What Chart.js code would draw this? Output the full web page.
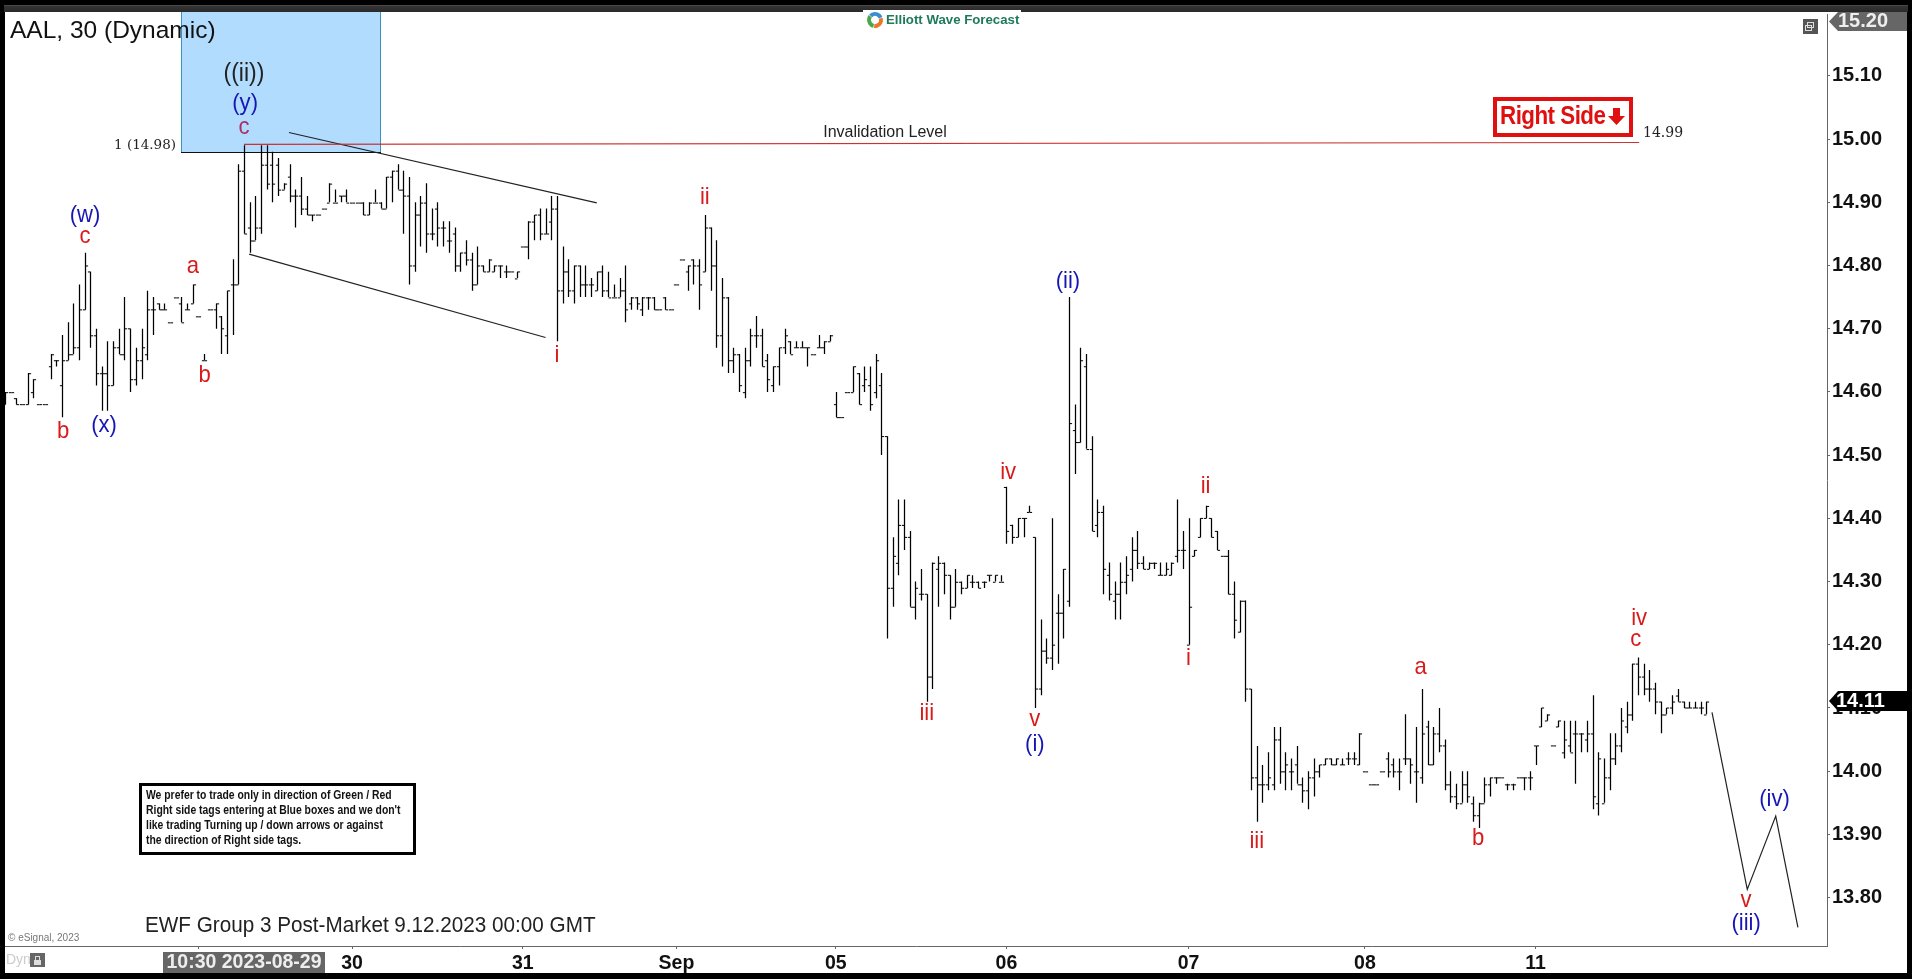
<!DOCTYPE html>
<html><head><meta charset="utf-8">
<style>html,body{margin:0;padding:0;background:#000;overflow:hidden}canvas{display:block}</style>
<script src="https://cdn.jsdelivr.net/npm/chart.js@4"></script>
</head><body>
<canvas id="c" width="1912" height="979"></canvas>
<script>
// 30-minute OHLC bars, prices in US cents, one entry per bar slot
const opens=[
1458,1460,1459,1458,1458,1460,1458,1458,1464,1465,
1461,1465,1466,1467,1473,1479,1469,1463,1463,1461,
1467,1466,1470,1462,1465,1466,1473,1474,1473,1471,
1475,1474,1473,1474,1472,1465,1473,1473,1472,1469,
1477,1477,1495,1486,1484,1486,1496,1496,1496,1492,
1494,1491,1491,1489,1488,1488,1489,1490,1490,1491,
1491,1490,1490,1490,1488,1490,1490,1489,1494,1495,
1492,1491,1480,1488,1490,1485,1489,1486,1484,1485,
1480,1482,1481,1477,1480,1479,1479,1480,1479,1479,
1478,1483,1483,1487,1488,1485,1487,1489,1476,1479,
1476,1480,1477,1477,1476,1479,1476,1475,1475,1476,
1474,1475,1473,1475,1475,1473,1475,1473,1477,1481,
1479,1481,1480,1479,1486,1480,1469,1475,1465,1466,
1460,1465,1469,1469,1465,1461,1464,1467,1468,1467,
1467,1467,1466,1467,1467,1468,1458,1456,1460,1460,
1463,1461,1461,1460,1461,1453,1429,1433,1439,1437,
1426,1428,1428,1415,1432,1433,1431,1426,1430,1429,
1430,1430,1430,1431,1430,1430,1445,1439,1437,1440,
1441,1437,1413,1419,1418,1425,1425,1427,1454,1452,
1464,1451,1439,1441,1431,1427,1428,1430,1432,1435,
1433,1432,1433,1431,1431,1431,1434,1435,1420,1434,
1437,1440,1440,1438,1434,1434,1428,1422,1427,1413,
1399,1398,1398,1398,1405,1400,1400,1401,1398,1397,
1399,1400,1401,1402,1401,1401,1402,1402,1401,1400,
1398,1398,1400,1402,1401,1400,1402,1402,1400,1399,
1407,1401,1406,1404,1398,1396,1395,1398,1395,1393,
1395,1398,1399,1399,1398,1398,1399,1399,1399,1404,
1407,1408,1404,1407,1403,1404,1406,1406,1405,1406,
1395,1395,1399,1402,1404,1407,1409,1417,1415,1413,
1413,1411,1409,1410,1412,1411,1410,1410,1410,1409];
const highs=[
1460,1460,1459,1458,1463,1462,1458,1458,1466,1465,
1469,1471,1474,1477,1482,1479,1470,1464,1468,1468,
1470,1475,1470,1467,1470,1476,1475,1474,1474,1471,
1475,1475,1474,1477,1472,1466,1473,1474,1472,1476,
1481,1496,1499,1490,1491,1499,1499,1498,1497,1493,
1496,1492,1494,1491,1488,1488,1489,1493,1492,1491,
1492,1490,1490,1490,1490,1492,1490,1494,1495,1496,
1495,1494,1490,1491,1493,1489,1490,1487,1487,1486,
1482,1484,1482,1483,1480,1481,1480,1480,1480,1479,
1479,1483,1487,1488,1489,1489,1491,1491,1483,1481,
1480,1480,1480,1478,1479,1480,1479,1477,1478,1480,
1475,1475,1475,1475,1475,1473,1475,1473,1477,1481,
1480,1481,1481,1488,1486,1484,1478,1475,1467,1466,
1467,1470,1472,1470,1466,1464,1467,1470,1468,1468,
1468,1467,1466,1469,1468,1469,1460,1456,1460,1464,
1463,1464,1464,1466,1463,1453,1437,1443,1443,1438,
1430,1432,1428,1433,1434,1433,1431,1432,1430,1431,
1431,1430,1430,1431,1431,1431,1445,1439,1440,1440,
1442,1437,1424,1421,1440,1428,1432,1475,1458,1467,
1466,1453,1443,1442,1433,1430,1433,1434,1437,1438,
1434,1433,1433,1433,1433,1433,1443,1438,1440,1435,
1440,1442,1440,1438,1434,1435,1430,1427,1427,1413,
1404,1401,1403,1407,1407,1403,1402,1404,1399,1400,
1402,1401,1402,1402,1402,1402,1403,1403,1406,1400,
1398,1398,1400,1403,1402,1402,1409,1402,1407,1413,
1408,1407,1410,1405,1400,1398,1400,1400,1396,1395,
1399,1399,1399,1399,1398,1398,1399,1399,1400,1404,
1410,1409,1404,1408,1408,1408,1408,1406,1408,1412,
1403,1402,1406,1406,1410,1411,1417,1418,1417,1416,
1414,1411,1410,1412,1413,1411,1411,1411,1411,1411];
const lows=[
1458,1460,1458,1458,1458,1459,1458,1458,1462,1464,
1456,1465,1466,1465,1473,1467,1461,1457,1457,1461,
1466,1465,1460,1461,1462,1465,1469,1473,1473,1471,
1475,1471,1473,1474,1472,1465,1473,1470,1466,1466,
1469,1477,1485,1482,1484,1485,1492,1490,1491,1492,
1490,1486,1488,1488,1487,1488,1489,1490,1490,1490,
1490,1490,1490,1488,1488,1490,1489,1489,1490,1492,
1485,1477,1479,1483,1482,1484,1483,1483,1482,1479,
1479,1480,1476,1477,1479,1479,1479,1478,1478,1479,
1478,1483,1481,1484,1484,1485,1484,1468,1474,1475,
1474,1475,1475,1475,1476,1475,1475,1475,1475,1471,
1473,1473,1472,1473,1473,1473,1473,1473,1477,1481,
1476,1477,1473,1479,1476,1467,1464,1463,1463,1460,
1459,1464,1467,1464,1460,1460,1461,1466,1466,1467,
1467,1464,1466,1467,1466,1468,1456,1456,1460,1460,
1458,1460,1457,1459,1450,1421,1426,1431,1435,1426,
1424,1427,1411,1413,1426,1428,1424,1426,1428,1429,
1429,1429,1429,1430,1430,1430,1436,1436,1437,1437,
1441,1410,1412,1417,1416,1417,1421,1426,1447,1452,
1451,1438,1437,1428,1427,1424,1424,1428,1430,1432,
1432,1432,1432,1431,1431,1431,1433,1432,1420,1434,
1437,1440,1437,1435,1434,1428,1421,1422,1411,1397,
1392,1395,1397,1397,1398,1397,1397,1398,1395,1394,
1396,1399,1401,1401,1401,1401,1401,1401,1401,1400,
1398,1398,1400,1399,1399,1397,1401,1398,1395,1398,
1401,1401,1403,1397,1395,1394,1395,1395,1392,1391,
1395,1396,1398,1399,1397,1397,1399,1397,1397,1401,
1407,1408,1404,1407,1402,1403,1398,1403,1403,1394,
1393,1395,1397,1401,1403,1406,1408,1412,1412,1411,
1409,1406,1409,1409,1411,1410,1410,1410,1409,1409];
const closes=[
1460,1460,1458,1458,1463,1462,1458,1458,1466,1465,
1465,1466,1467,1473,1480,1469,1463,1463,1461,1467,
1466,1470,1462,1465,1467,1473,1473,1473,1473,1471,
1475,1471,1473,1477,1472,1465,1473,1474,1470,1476,
1477,1495,1485,1484,1486,1496,1493,1493,1492,1493,
1491,1491,1489,1488,1488,1488,1489,1493,1490,1491,
1490,1490,1490,1488,1490,1490,1489,1494,1495,1492,
1491,1480,1488,1490,1485,1485,1486,1486,1484,1480,
1482,1481,1477,1480,1479,1481,1480,1480,1479,1479,
1479,1483,1487,1488,1485,1485,1489,1476,1479,1476,
1480,1477,1477,1477,1479,1476,1475,1475,1476,1473,
1475,1474,1475,1475,1473,1473,1473,1473,1477,1481,
1480,1480,1477,1486,1480,1469,1475,1465,1466,1461,
1465,1469,1469,1464,1462,1464,1467,1469,1466,1467,
1467,1467,1466,1467,1468,1469,1456,1456,1460,1464,
1458,1462,1458,1465,1453,1429,1434,1439,1437,1426,
1429,1428,1415,1433,1433,1431,1426,1430,1429,1431,
1430,1429,1430,1431,1431,1430,1438,1437,1440,1440,
1441,1413,1419,1418,1420,1425,1432,1455,1452,1465,
1451,1438,1441,1432,1428,1428,1430,1431,1435,1433,
1432,1433,1433,1431,1432,1433,1435,1435,1426,1435,
1440,1442,1437,1435,1434,1428,1424,1427,1413,1399,
1398,1398,1399,1405,1400,1401,1400,1398,1397,1399,
1400,1401,1402,1401,1402,1401,1402,1402,1406,1400,
1398,1398,1400,1400,1400,1400,1402,1401,1400,1406,
1401,1406,1404,1398,1396,1395,1398,1396,1393,1395,
1398,1399,1399,1399,1398,1398,1399,1399,1399,1404,
1410,1409,1404,1408,1405,1403,1406,1406,1406,1396,
1402,1399,1402,1404,1408,1409,1417,1415,1413,1413,
1411,1409,1410,1411,1411,1410,1410,1410,1410,1411];

const priceTicks=[13.8,13.9,14.0,14.1,14.2,14.3,14.4,14.5,14.6,14.7,14.8,14.9,15.0,15.1];
const timeTickSlots=[34,61,91,118,146,176,208,239,269];
const timeTickLabels=['','30','31','Sep','05','06','07','08','11'];
const invalidation=[[42,14.9915],[287.2,14.9945]];
const channelUpper=[[49.9,15.0104],[104,14.899]];
const channelLower=[[42.9,14.818],[95,14.686]];
const projection=[[300,14.093],[306.2,13.813],[311.2,13.929],[315.1,13.753]];
const blueBox={from:30.9,to:65.9,bottom:14.98};
const RED='#d91a1a',BLUE='#1616b4',DARK='#222';
const waveLabels=[
['((ii))',42,15.103,DARK],['(y)',42.2,15.057,BLUE],['c',42,15.018,'#a83262'],
['(w)',14.06,14.880,BLUE],['c',14.06,14.846,RED],['a',33,14.798,RED],['b',35.1,14.626,RED],
['b',10.2,14.538,RED],['(x)',17.4,14.547,BLUE],['i',97,14.658,RED],['ii',123,14.907,RED],
['iv',176.3,14.473,RED],['iii',162,14.091,RED],['v',181,14.082,RED],['(i)',181,14.042,BLUE],
['(ii)',186.8,14.775,BLUE],['ii',211,14.451,RED],['i',208,14.178,RED],['iii',220,13.889,RED],
['a',248.8,14.164,RED],['b',258.9,13.894,RED],['iv',287.2,14.241,RED],['c',286.6,14.208,RED],
['v',306,13.796,RED],['(iii)',306,13.760,BLUE],['(iv)',311,13.955,BLUE]];
const noteLines=['We prefer to trade only in direction of Green / Red',"Right side tags entering at Blue boxes and we don't",'like trading Turning up / down arrows or against','the direction of Right side tags.'];

// geometry of the plot
const AREA={left:5,top:12,right:1827,bottom:946};
const STEP=5.69, X_MAX=(AREA.right-AREA.left)/STEP;
const Y_MAX=15.1978, Y_MIN=13.7235, PXPER=(AREA.bottom-AREA.top)/(Y_MAX-Y_MIN);
// keep the 1px strokes on whole device pixels
const snapX=s=>(Math.round(AREA.left+s*STEP)+0.5-AREA.left)/STEP;
const snapY=v=>Y_MAX-(Math.round(AREA.top+(Y_MAX-v)*PXPER)+0.5-AREA.top)/PXPER;
const TICK=2.6/STEP;
const wickPts=[],openPts=[],closePts=[];
opens.forEach((o,i)=>{
  const x=snapX(i);
  wickPts.push({x,y:highs[i]/100},{x,y:lows[i]/100},{x,y:null});
  const oy=snapY(o/100),cy=snapY(closes[i]/100);
  openPts.push({x:x-TICK,y:oy},{x,y:oy},{x,y:null});
  closePts.push({x,y:cy},{x:x+TICK,y:cy},{x,y:null});
});
const pts=a=>a.map(p=>({x:p[0],y:p[1]}));
const ds=(label,data,color,w)=>({type:'scatter',label,data,showLine:true,borderColor:color,borderWidth:w,pointRadius:0,pointHoverRadius:0,spanGaps:false,tension:0,fill:false});

function txt(ctx,s,x,y,font,color,align,spacing,sx){
  ctx.save();ctx.font=font;ctx.fillStyle=color;ctx.textAlign=align||'left';ctx.textBaseline='middle';
  if(spacing)ctx.letterSpacing=spacing;
  ctx.translate(x,y);if(sx)ctx.scale(sx,1);
  ctx.fillText(s,0,0);ctx.restore();
}
const frame={id:'frame',
 beforeDraw(c){const g=c.ctx;g.save();
  g.fillStyle='#000';g.fillRect(0,0,1912,979);
  g.fillStyle='#fff';g.fillRect(5,12,1902,961);
  const gr=g.createLinearGradient(0,5,0,12);gr.addColorStop(0,'#555');gr.addColorStop(.2,'#333');gr.addColorStop(1,'#2a2a2a');
  g.fillStyle=gr;g.fillRect(4,5,1904,7);
  g.restore();},
 beforeDatasetsDraw(c){const g=c.ctx,x=c.scales.x,y=c.scales.y;g.save();
  const l=Math.round(x.getPixelForValue(blueBox.from)),r=Math.round(x.getPixelForValue(blueBox.to)),b=Math.round(y.getPixelForValue(blueBox.bottom));
  g.fillStyle='#b1dcfe';g.fillRect(l,AREA.top,r-l,b-AREA.top);
  g.fillStyle='#3a92bd';g.fillRect(l,AREA.top,1,b-AREA.top);g.fillRect(r,AREA.top,1,b-AREA.top);
  g.fillStyle='#111';g.fillRect(l,b,r-l+1,1);
  g.restore();},
 afterDraw(c){const g=c.ctx,x=c.scales.x,y=c.scales.y;
  const F='"Liberation Sans",Arial,sans-serif';
  waveLabels.forEach(w=>txt(g,w[0],x.getPixelForValue(w[1]),y.getPixelForValue(w[2]),(w[0]==='((ii))'?25:24)+'px '+F,w[3],'center',null,0.92));
  txt(g,'AAL, 30 (Dynamic)',10,31,'24.5px '+F,'#111');
  txt(g,'EWF Group 3 Post-Market 9.12.2023 00:00 GMT',145,926,'22px '+F,'#222','left',null,0.94);
  txt(g,'Invalidation Level',885,133,'16px '+F,'#222','center');
  txt(g,'14.99',1643,133,'14px "DejaVu Serif",serif','#222');
  txt(g,'1 (14.98)',114,145,'13.5px "DejaVu Serif",serif','#222');
  txt(g,'© eSignal, 2023',8,938,'10px '+F,'#777');
  txt(g,'Dyn',6,960,'14px '+F,'#ccc');
  g.fillStyle='#666';g.fillRect(30,953,15,14);
  g.fillStyle='#ddd';g.fillRect(34,960,7,5);g.strokeStyle='#ddd';g.lineWidth=1;g.strokeRect(35.5,956.5,4,4);
  // note box
  g.fillStyle='#fff';g.fillRect(139,783,277,72);g.strokeStyle='#000';g.lineWidth=3;g.strokeRect(140.5,784.5,274,69);
  noteLines.forEach((s,i)=>txt(g,s,146,796+i*15,'bold 12px '+F,'#111','left',null,0.865));
  // right side tag
  g.strokeStyle='#e01010';g.lineWidth=4;g.strokeRect(1495,99,136,36);
  txt(g,'Right Side',1500,117,'bold 26px '+F,'#e01010','left','-0.6px',0.86);
  g.fillStyle='#e01010';g.beginPath();
  [[1613,108],[1620,108],[1620,116],[1625,116],[1616.5,125],[1608,116],[1613,116]].forEach((p,i)=>i?g.lineTo(p[0],p[1]):g.moveTo(p[0],p[1]));g.closePath();g.fill();
  // logo
  g.fillStyle='#fff';g.fillRect(863,10,158,20);
  [['#3a8fd0',-2.4,-0.4],['#e8782a',-0.3,1.7],['#4aa84a',1.8,3.8]].forEach(a=>{g.strokeStyle=a[0];g.lineWidth=4;g.beginPath();g.arc(875,20,6,a[1],a[2]);g.stroke();});
  txt(g,'Elliott Wave Forecast',886,20,'bold 13.5px '+F,'#1f7a5c','left',null,0.98);
  // window icon
  g.fillStyle='#555';g.fillRect(1803,19,15,15);g.strokeStyle='#ddd';g.lineWidth=1;g.strokeRect(1807.5,22.5,6,5);g.strokeRect(1805.5,25.5,6,5);
  // price tags
  const tag=(top,bot,fill)=>{g.fillStyle=fill;g.beginPath();g.moveTo(1829,(top+bot)/2);g.lineTo(1838,top);g.lineTo(1907,top);g.lineTo(1907,bot);g.lineTo(1838,bot);g.closePath();g.fill();};
  tag(12,31,'#666');txt(g,'15.20',1838,21.5,'bold 20px '+F,'#eee');
  tag(691,711,'#000');txt(g,'14.11',1836,701.5,'bold 20px '+F,'#fff');
  // cursor time tag
  g.fillStyle='#666';g.fillRect(163,952,162,21);
  txt(g,'10:30 2023-08-29',244,963,'bold 19.5px '+F,'#eee','center');
 }};

new Chart(document.getElementById('c'),{
 type:'scatter',
 data:{datasets:[
  ds('Invalidation',pts(invalidation),'rgba(200,40,40,.95)',1.2),
  ds('High-Low',wickPts,'#000',1.25),
  ds('Open',openPts,'#000',1),
  ds('Close',closePts,'#000',1),
  ds('Channel upper',pts(channelUpper),'#222',1.2),
  ds('Channel lower',pts(channelLower),'#222',1.2),
  ds('Projection',pts(projection),'#222',1.2)]},
 options:{responsive:false,animation:false,devicePixelRatio:1,
  layout:{padding:{left:AREA.left,top:AREA.top,right:5,bottom:6}},
  plugins:{legend:{display:false},tooltip:{enabled:false}},
  events:[],
  scales:{
   x:{type:'linear',position:'bottom',min:0,max:X_MAX,
    afterBuildTicks(s){s.ticks=timeTickSlots.map(v=>({value:v}));},
    afterFit(s){s.height=973-AREA.bottom;},
    border:{color:'#666',width:1},
    grid:{drawOnChartArea:false,tickLength:3,tickColor:'#666'},
    ticks:{autoSkip:false,maxRotation:0,padding:3,color:'#111',font:{family:'"Liberation Sans",Arial,sans-serif',weight:'bold',size:19.5},
     callback:v=>timeTickLabels[timeTickSlots.indexOf(v)]}},
   y:{type:'linear',position:'right',min:Y_MIN,max:Y_MAX,
    afterBuildTicks(s){s.ticks=priceTicks.map(v=>({value:v}));},
    afterFit(s){s.width=1907-AREA.right;},
    border:{color:'#666',width:1},
    grid:{drawOnChartArea:false,tickLength:3,tickColor:'#666'},
    ticks:{autoSkip:false,padding:2,color:'#111',font:{family:'"Liberation Sans",Arial,sans-serif',weight:'bold',size:20},
     callback:v=>Number(v).toFixed(2)}}
  }},
 plugins:[frame]
});
</script>
</body></html>
